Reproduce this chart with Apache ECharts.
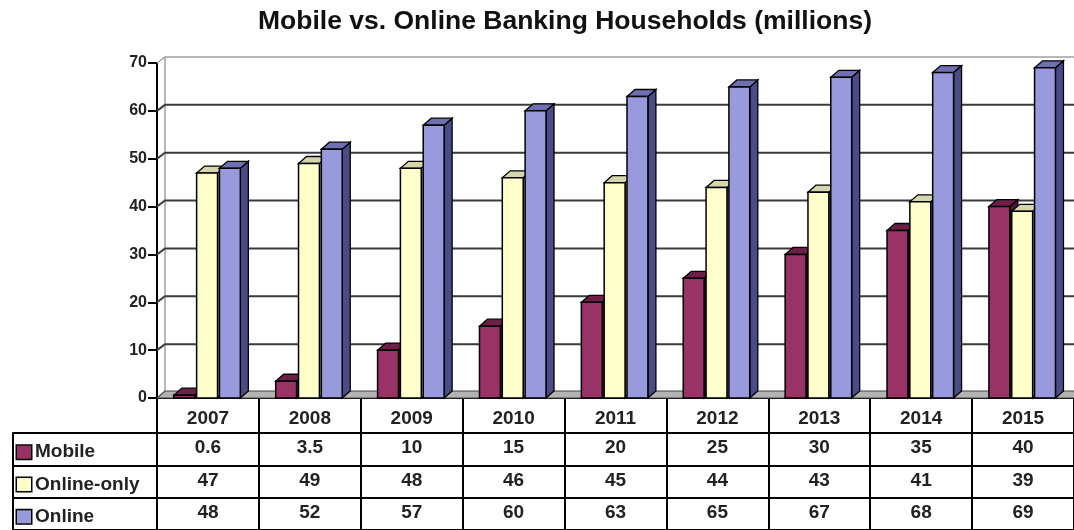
<!DOCTYPE html>
<html>
<head>
<meta charset="utf-8">
<script src="https://cdn.jsdelivr.net/npm/echarts@6/dist/echarts.min.js"></script>
<style>
  html, body { margin: 0; padding: 0; background: #fff; }
  #chart { width: 1074px; height: 530px; }
</style>
</head>
<body>
<div id="chart"></div>
<script>
// Categories and values (millions of households)
const years = ['2007', '2008', '2009', '2010', '2011', '2012', '2013', '2014', '2015'];
const mobile = [0.6, 3.5, 10, 15, 20, 25, 30, 35, 40];
const onlineOnly = [47, 49, 48, 46, 45, 44, 43, 41, 39];
const online = [48, 52, 57, 60, 63, 65, 67, 68, 69];
const seriesNames = ['Mobile', 'Online-only', 'Online'];
const yTicks = [0, 10, 20, 30, 40, 50, 60, 70];

const FONT = '"Liberation Sans", Arial, sans-serif';
const shades = [
  { front: '#993366', top: '#6e1f48', side: '#561538' },
  { front: '#FFFFCC', top: '#d6d6ae', side: '#a9a984' },
  { front: '#9999DD', top: '#6f6fb2', side: '#4b4b88' }
];
const DX = 8, DY = 7;

// 3D-looking column: front face, top face and right side face
function columnRenderer(s) {
  return function (params, api) {
    const idx = api.value(0);
    const v = api.value(1);
    const base = api.coord([idx, 0]);
    const top = api.coord([idx, v]);
    const band = api.size([1, 0])[0];
    const x0 = base[0] - band / 2 + band * 0.165 + s * band * 0.224;
    const w = band * 0.205;
    const c = shades[s];
    const yt = top[1], yb = base[1];
    return {
      type: 'group',
      children: [
        { type: 'polygon',
          shape: { points: [[x0 + w, yt], [x0 + w + DX, yt - DY], [x0 + w + DX, yb - DY], [x0 + w, yb]] },
          style: { fill: c.side, stroke: '#000', lineWidth: 1.3 } },
        { type: 'polygon',
          shape: { points: [[x0, yt], [x0 + DX, yt - DY], [x0 + w + DX, yt - DY], [x0 + w, yt]] },
          style: { fill: c.top, stroke: '#000', lineWidth: 1.3 } },
        { type: 'rect',
          shape: { x: x0, y: yt, width: w, height: yb - yt },
          style: { fill: c.front, stroke: '#000', lineWidth: 1.5 } }
      ]
    };
  };
}

// Back wall gridlines, side wall diagonals and the floor
function wallRenderer(params, api) {
  const cs = params.coordSys;
  const v = api.value(1);
  const y = api.coord([0, v])[1];
  const left = cs.x, right = cs.x + cs.width;
  if (v === 0) {
    return {
      type: 'group',
      children: [
        { type: 'line',
          shape: { x1: left + DX, y1: cs.y - 6, x2: left + DX, y2: y - DY },
          style: { stroke: '#a0a0a0', lineWidth: 1.5 } },
        { type: 'polygon',
          shape: { points: [[left, y], [left + DX, y - DY], [right + 20, y - DY], [right + 20, y]] },
          style: { fill: '#b3b3b3', stroke: '#444', lineWidth: 1.2 } }
      ]
    };
  }
  const top = v === yTicks[yTicks.length - 1];
  return {
    type: 'polyline',
    shape: { points: [[left, y], [left + DX, y - 6], [right + 20, y - 6]] },
    style: { stroke: top ? '#a0a0a0' : '#3a3a3a', lineWidth: top ? 1.5 : 2, fill: null }
  };
}

const tableRows = [mobile, onlineOnly, online];
const tableData = [];
tableRows.forEach((row, r) => row.forEach((v, i) => tableData.push([i, r, v])));

function cellRenderer(params, api) {
  const p = api.coord([api.value(0), api.value(1)]);
  return {
    type: 'text',
    x: p[0], y: p[1] - 1,
    style: {
      text: String(api.value(2)),
      font: 'bold 19px ' + FONT,
      fill: '#222',
      textAlign: 'center',
      textVerticalAlign: 'middle'
    }
  };
}

const legendRich = {
  t: { fontFamily: FONT, fontWeight: 'bold', fontSize: 19, color: '#222', padding: [0, 0, 0, 4] }
};
shades.forEach((c, i) => {
  legendRich['s' + i] = { width: 14, height: 13, backgroundColor: c.front, borderColor: '#000', borderWidth: 1.5 };
});

const chart = echarts.init(document.getElementById('chart'));
chart.setOption({
  animation: false,
  backgroundColor: '#fff',
  title: {
    text: 'Mobile vs. Online Banking Households (millions)',
    left: 560, top: 3, textAlign: 'center',
    textStyle: { fontFamily: FONT, fontWeight: 'bold', fontSize: 26.5, color: '#111' }
  },
  grid: [
    { left: 157, right: -6, top: 63, bottom: 132 },
    { left: 157, right: -6, top: 433, height: 99 }
  ],
  xAxis: [
    { type: 'category', gridIndex: 0, data: years,
      axisLine: { lineStyle: { color: '#000', width: 2 } },
      axisTick: { show: true, alignWithLabel: false, interval: 0, length: 35, lineStyle: { color: '#000', width: 2 } },
      axisLabel: { interval: 0, margin: 11, fontFamily: FONT, fontWeight: 'bold', fontSize: 19, color: '#222' },
      splitLine: { show: false } },
    { type: 'category', gridIndex: 1, data: years,
      axisLine: { show: false }, axisTick: { show: false }, axisLabel: { show: false },
      splitLine: { show: true, interval: 0, lineStyle: { color: '#000', width: 2 } } }
  ],
  yAxis: [
    { type: 'value', gridIndex: 0, min: 0, max: 70, interval: 10,
      axisLine: { show: true, lineStyle: { color: '#000', width: 2 } },
      axisTick: { show: true, length: 9, lineStyle: { color: '#000', width: 2 } },
      axisLabel: { margin: 10, fontFamily: FONT, fontWeight: 'bold', fontSize: 16, color: '#222' },
      splitLine: { show: false } },
    { type: 'category', gridIndex: 1, data: seriesNames, inverse: true,
      axisLine: { show: true, lineStyle: { color: '#000', width: 2 } },
      axisTick: { show: true, alignWithLabel: false, interval: 0, length: 144, lineStyle: { color: '#000', width: 2 } },
      axisLabel: { align: 'left', margin: 140, interval: 0, padding: [6, 0, 0, 0],
        formatter: (val, idx) => '{s' + idx + '|}{t|' + val + '}', rich: legendRich },
      splitLine: { show: true, interval: 0, lineStyle: { color: '#000', width: 2 } } },
    { type: 'category', gridIndex: 1, data: seriesNames, position: 'left', offset: 144,
      axisLine: { show: true, lineStyle: { color: '#000', width: 2 } },
      axisTick: { show: false }, axisLabel: { show: false }, splitLine: { show: false } }
  ],
  series: [
    { type: 'custom', name: 'wall', xAxisIndex: 0, yAxisIndex: 0, z: 1, silent: true,
      data: yTicks.map(v => [0, v]), encode: { x: 0, y: 1 }, renderItem: wallRenderer, clip: false },
    { type: 'custom', name: seriesNames[0], xAxisIndex: 0, yAxisIndex: 0, z: 2,
      data: mobile.map((v, i) => [i, v]), encode: { x: 0, y: 1 }, renderItem: columnRenderer(0), clip: false },
    { type: 'custom', name: seriesNames[1], xAxisIndex: 0, yAxisIndex: 0, z: 2,
      data: onlineOnly.map((v, i) => [i, v]), encode: { x: 0, y: 1 }, renderItem: columnRenderer(1), clip: false },
    { type: 'custom', name: seriesNames[2], xAxisIndex: 0, yAxisIndex: 0, z: 2,
      data: online.map((v, i) => [i, v]), encode: { x: 0, y: 1 }, renderItem: columnRenderer(2), clip: false },
    { type: 'custom', name: 'table', xAxisIndex: 1, yAxisIndex: 1, z: 3,
      data: tableData, encode: { x: 0, y: 1 }, renderItem: cellRenderer, clip: false }
  ]
});
</script>
</body>
</html>
